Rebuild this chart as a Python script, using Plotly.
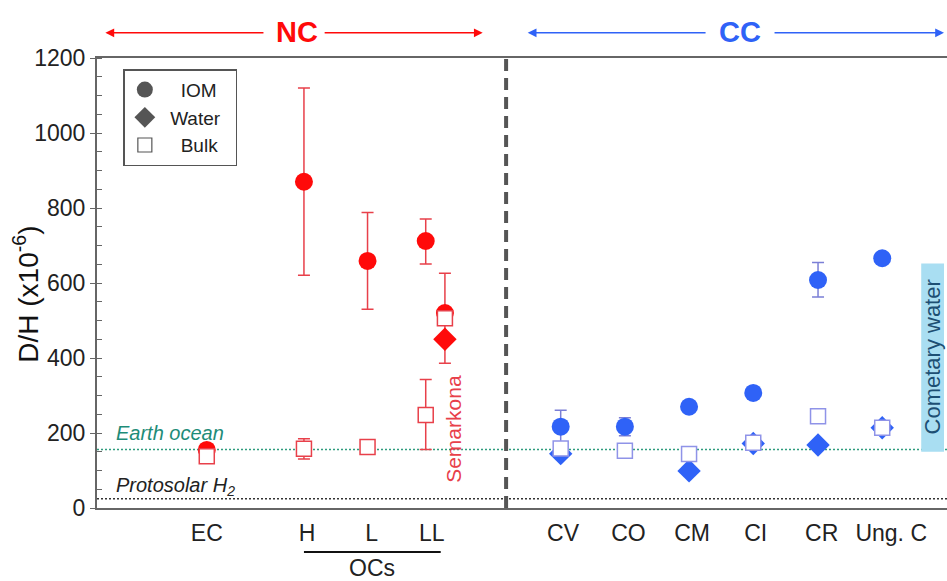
import plotly.graph_objects as go

# ---------------- data ----------------
# non-carbonaceous (NC) groups
nc_names = ["EC", "H", "L", "LL", "Semarkona"]
nc_x = [1.83, 3.45, 4.51, 5.48, 5.80]
nc_iom = [155, 870, 659, 712, 520]
nc_iom_plus = [0, 250, 129, 59, 106]
nc_iom_minus = [0, 249, 129, 61, 70]
nc_water = [None, None, None, None, 450]
nc_water_plus = [0, 0, 0, 0, 0]
nc_water_minus = [0, 0, 0, 0, 64]
nc_bulk = [138, 158, 163, 248, 506]
nc_bulk_plus = [0, 27, 0, 95, 0]
nc_bulk_minus = [0, 27, 0, 92, 0]

# carbonaceous (CC) groups
cc_names = ["CV", "CO", "CM", "CI", "CR", "Ung. C"]
cc_x = [7.73, 8.80, 9.87, 10.94, 12.02, 13.09]
cc_iom = [217, 217, 270, 307, 608, 666]
cc_iom_plus = [44, 24, 0, 0, 47, 0]
cc_iom_minus = [44, 24, 0, 0, 45, 0]
cc_water = [145, None, 99, 172, 168, 214]
cc_bulk = [159, 153, 144, 174, 245, 214]

tick_labels = ["EC", "H", "L", "LL", "CV", "CO", "CM", "CI", "CR", "Ung. C"]
tick_x = [1.83, 3.50, 4.58, 5.58, 7.77, 8.86, 9.92, 10.98, 12.08, 13.24]

legend_names = ["\u00a0\u00a0\u00a0IOM", "\u00a0Water\u00a0\u00a0", "\u00a0\u00a0\u00a0Bulk"]

earth_ocean = 155.76
protosolar = 25
comet_low, comet_high = 150, 652
divider_x = 6.82

RED = "#ff0a0a"
RED_ERR = "#e8404a"
BLUE = "#2f62f7"
BLUE_ERR = "#7b7fd6"
BLUE_BULK = "#8f93e8"
GRAY = "#555555"
FONT = "Liberation Sans, Arial, Helvetica, sans-serif"

fig = go.Figure()

def err(plus, minus, color):
    return dict(type="data", symmetric=False, array=plus, arrayminus=minus,
                color=color, thickness=1.5, width=6)

# NC traces
fig.add_trace(go.Scatter(x=nc_x, y=nc_iom, mode="markers", showlegend=False,
                         marker=dict(symbol="circle", size=18, color=RED),
                         error_y=err(nc_iom_plus, nc_iom_minus, RED_ERR)))
fig.add_trace(go.Scatter(x=nc_x, y=nc_water, mode="markers", showlegend=False,
                         marker=dict(symbol="diamond", size=18, color=RED),
                         error_y=err(nc_water_plus, nc_water_minus, RED_ERR)))
fig.add_trace(go.Scatter(x=nc_x, y=nc_bulk, mode="markers", showlegend=False,
                         marker=dict(symbol="square", size=15, color="white",
                                     line=dict(color=RED_ERR, width=1.5)),
                         error_y=err(nc_bulk_plus, nc_bulk_minus, RED_ERR)))

# CC traces
fig.add_trace(go.Scatter(x=cc_x, y=cc_iom, mode="markers", showlegend=False,
                         marker=dict(symbol="circle", size=18, color=BLUE),
                         error_y=err(cc_iom_plus, cc_iom_minus, BLUE_ERR)))
fig.add_trace(go.Scatter(x=cc_x, y=cc_water, mode="markers", showlegend=False,
                         marker=dict(symbol="diamond", size=18, color=BLUE)))
fig.add_trace(go.Scatter(x=cc_x, y=cc_bulk, mode="markers", showlegend=False,
                         marker=dict(symbol="square", size=15, color="white",
                                     line=dict(color=BLUE_BULK, width=1.5))))

# legend entries
fig.add_trace(go.Scatter(x=[None], y=[None], mode="markers", name=legend_names[0],
                         marker=dict(symbol="circle", size=17, color=GRAY)))
fig.add_trace(go.Scatter(x=[None], y=[None], mode="markers", name=legend_names[1],
                         marker=dict(symbol="diamond", size=16, color=GRAY)))
fig.add_trace(go.Scatter(x=[None], y=[None], mode="markers", name=legend_names[2],
                         marker=dict(symbol="square", size=14, color="white",
                                     line=dict(color=GRAY, width=1.2))))

shapes = [
    dict(type="rect", xref="x", yref="y", x0=13.74, x1=14.12, y0=comet_low, y1=comet_high,
         fillcolor="#a9def2", line=dict(width=0), layer="below"),
    dict(type="line", xref="paper", yref="y", x0=0, x1=1, y0=earth_ocean, y1=earth_ocean,
         line=dict(color="#2f9c7e", width=1.5, dash="2px,2px"), layer="below"),
    dict(type="line", xref="paper", yref="y", x0=0, x1=1, y0=protosolar, y1=protosolar,
         line=dict(color="#333333", width=1.5, dash="2px,2px"), layer="below"),
    dict(type="line", xref="x", yref="paper", x0=divider_x, x1=divider_x, y0=0, y1=1,
         line=dict(color=GRAY, width=4, dash="12px,7px")),
    dict(type="line", xref="x", yref="paper", x0=3.45, x1=5.73, y0=-0.098, y1=-0.098,
         line=dict(color="#111111", width=2)),
]

annotations = [
    dict(text="D/H (x10<sup>-6</sup>)", x=-0.083, y=0.475, xref="paper", yref="paper",
         textangle=-90, showarrow=False, xanchor="center", yanchor="middle",
         font=dict(size=28, color="#111111", family=FONT)),
    dict(text="<i>Earth ocean</i>", x=0.28, y=200, xref="x", yref="y", xanchor="left",
         showarrow=False, font=dict(size=20, color="#1e8c78", family=FONT)),
    dict(text="<i>Protosolar H<sub>2</sub></i>", x=0.28, y=57, xref="x", yref="y", xanchor="left",
         showarrow=False, font=dict(size=20, color="#222222", family=FONT)),
    dict(text="Semarkona", x=5.94, y=212, xref="x", yref="y", textangle=-90,
         showarrow=False, font=dict(size=21, color=RED_ERR, family=FONT)),
    dict(text="Cometary water", x=13.93, y=403, xref="x", yref="y", textangle=-90,
         showarrow=False, font=dict(size=22, color="#1d4f73", family=FONT)),
    dict(text="OCs", x=4.58, y=-0.133, xref="x", yref="paper", showarrow=False,
         yanchor="middle", font=dict(size=23, color="#222222", family=FONT)),
    dict(text="<b>NC</b>", x=3.33, y=1.058, xref="x", yref="paper", showarrow=False,
         yanchor="middle", font=dict(size=29, color=RED, family=FONT)),
    dict(text="<b>CC</b>", x=10.72, y=1.058, xref="x", yref="paper", showarrow=False,
         yanchor="middle", font=dict(size=29, color=BLUE, family=FONT)),
]
arrows = [
    (0.14, 2.80, RED), (6.43, 3.77, RED),
    (7.18, 10.17, BLUE), (14.12, 11.27, BLUE),
]
for head, tail, col in arrows:
    annotations.append(dict(x=head, y=1.056, xref="x", yref="paper", ax=tail, ay=0,
                            axref="x", ayref="pixel", showarrow=True, text="",
                            arrowhead=2, arrowsize=1.1, arrowwidth=1.6, arrowcolor=col))

fig.update_layout(
    width=947, height=581,
    margin=dict(l=97, r=0, t=58, b=73),
    paper_bgcolor="white", plot_bgcolor="white",
    font=dict(family=FONT, color="#222222"),
    shapes=shapes, annotations=annotations,
    legend=dict(x=0.031, y=0.975, xanchor="left", yanchor="top",
                bordercolor=GRAY, borderwidth=1.5, bgcolor="white",
                font=dict(size=19, color="#222222", family=FONT),
                itemsizing="trace", tracegroupgap=2),
    xaxis=dict(range=[0, 14.17], tickvals=tick_x, ticktext=tick_labels,
               showgrid=False, zeroline=False, ticks="", showline=True, mirror=True,
               linecolor="#666666", linewidth=2, ticklabelstandoff=3,
               tickfont=dict(size=23, color="#222222")),
    yaxis=dict(range=[0, 1200], tickvals=[0, 200, 400, 600, 800, 1000, 1200],
               showgrid=False, zeroline=False, showline=True, linecolor="#666666",
               linewidth=2, ticks="outside", ticklen=5, tickcolor="#666666",
               minor=dict(dtick=50, ticks="inside", ticklen=5, tickcolor="#666666"),
               tickfont=dict(size=23, color="#222222")),
)

fig.write_html("out.html", config={"displayModeBar": False},
               post_script="document.body.style.margin='0';")
